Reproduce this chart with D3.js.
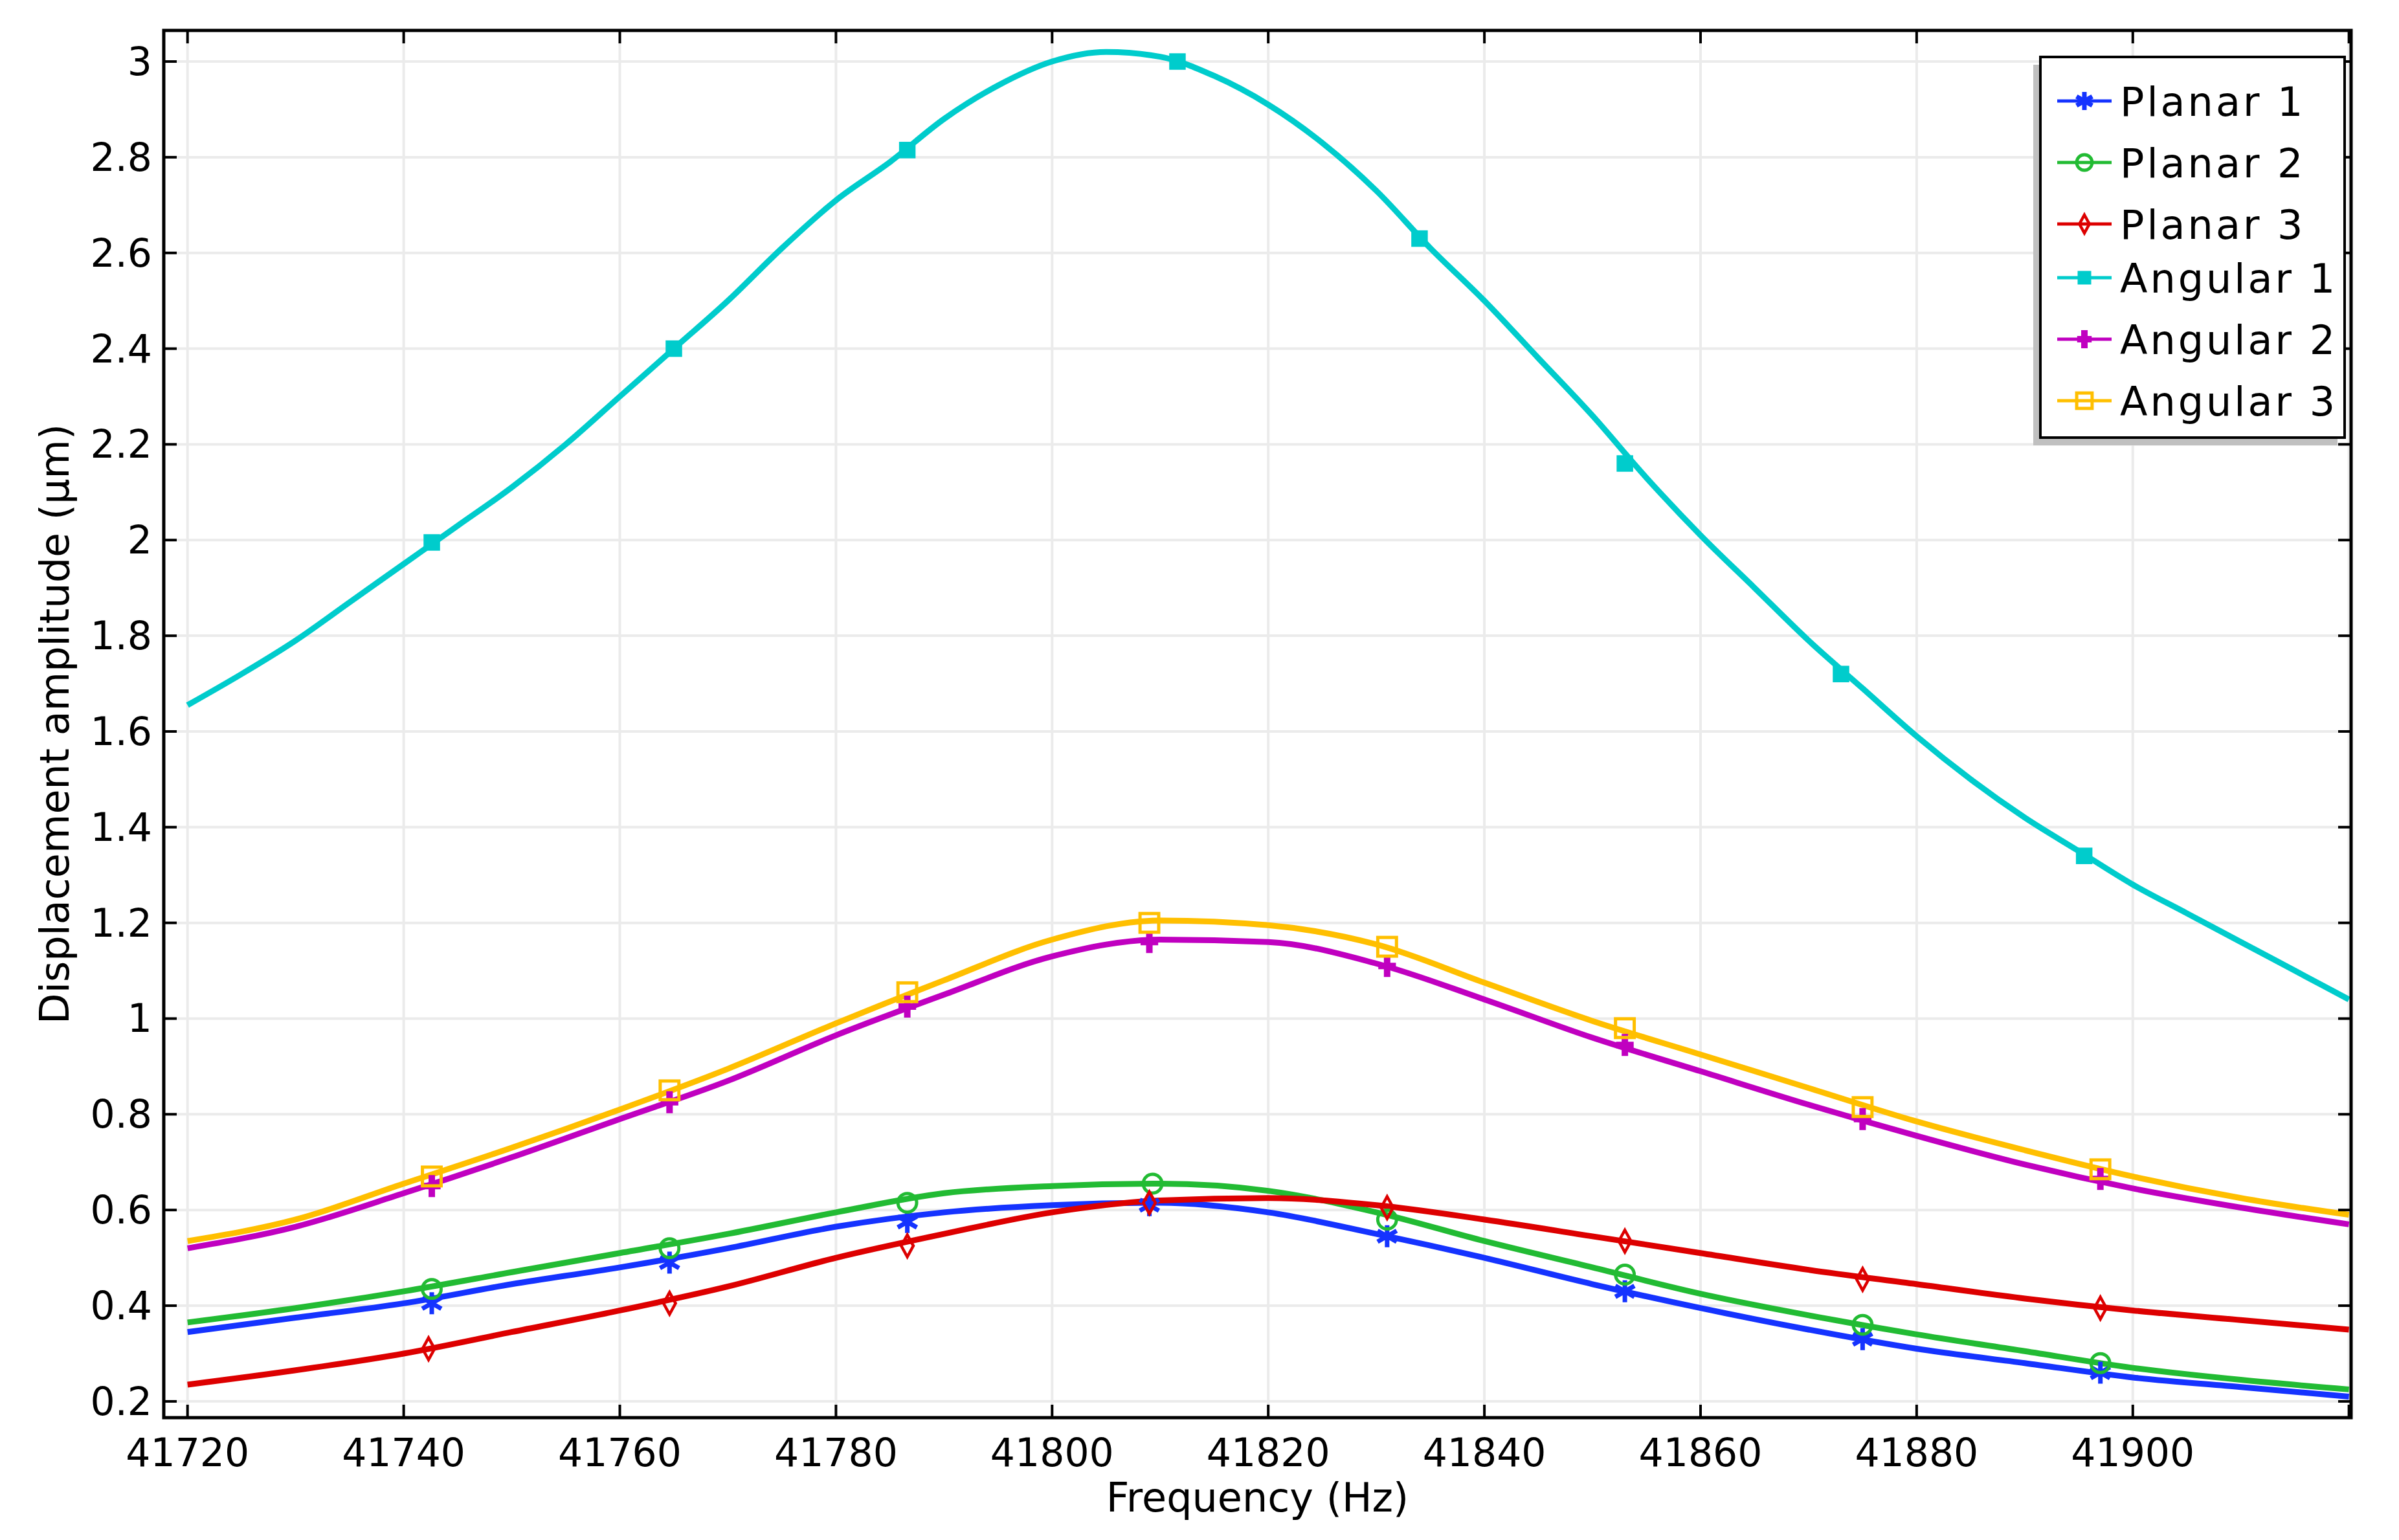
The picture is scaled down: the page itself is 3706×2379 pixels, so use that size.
<!DOCTYPE html>
<html><head><meta charset="utf-8">
<script src="https://cdn.jsdelivr.net/npm/d3@7"></script>
<style>body{margin:0;background:#fff}</style></head>
<body><svg id="c" width="3706" height="2379"></svg>
<script>
const freqs = [41720,41730,41740,41750,41760,41770,41780,41790,41800,41810,41820,41830,41840,41850,41860,41870,41880,41890,41900,41910,41920];
const planar1 = [.345,.375,.405,.445,.48,.52,.565,.595,.61,.615,.595,.55,.5,.445,.395,.35,.31,.28,.25,.23,.21];
const planar2 = [.365,.395,.43,.47,.51,.55,.595,.635,.65,.655,.64,.595,.535,.48,.425,.38,.34,.305,.27,.245,.225];
const planar3 = [.235,.265,.30,.345,.39,.44,.50,.55,.595,.62,.625,.61,.58,.545,.51,.475,.445,.415,.39,.37,.35];
const angular1x = [41720,41725,41730,41735,41740,41745,41750,41755,41760,41765,41770,41775,41780,41785,41790,41795,41800,41805,41810,41815,41820,41825,41830,41835,41840,41845,41850,41855,41860,41865,41870,41875,41880,41885,41890,41895,41900,41905,41910,41915,41920];
const angular1 = [1.655,1.72,1.79,1.87,1.95,2.03,2.11,2.20,2.30,2.40,2.50,2.61,2.71,2.79,2.88,2.95,3.0,3.02,3.01,2.97,2.91,2.83,2.73,2.61,2.50,2.38,2.26,2.13,2.01,1.90,1.79,1.69,1.59,1.50,1.42,1.35,1.28,1.22,1.16,1.10,1.04];
const angular2 = [.52,.565,.635,.71,.79,.87,.965,1.05,1.13,1.165,1.16,1.115,1.04,.96,.89,.82,.755,.695,.645,.605,.57];
const angular3 = [.535,.58,.655,.73,.81,.895,.99,1.08,1.165,1.205,1.195,1.155,1.075,.995,.925,.855,.785,.725,.67,.625,.59];
const markers1 = [[41742.6,.405],[41764.6,.49],[41786.6,.575],[41809,.61],[41831,.545],[41853,.43],[41875,.33],[41897,.26]];
const markers2 = [[41742.6,.435],[41764.6,.52],[41786.6,.615],[41809.3,.655],[41831,.58],[41853,.465],[41875,.36],[41897,.28]];
const markers3 = [[41742.3,.31],[41764.6,.405],[41786.6,.525],[41809,.615],[41831,.605],[41853,.535],[41875,.455],[41897,.395]];
const markersA1 = [[41742.6,1.995],[41765,2.4],[41786.6,2.815],[41811.6,3.0],[41834,2.63],[41853,2.16],[41873,1.72],[41895.5,1.34]];
const markersA2 = [[41742.6,.65],[41764.6,.825],[41786.6,1.025],[41809,1.16],[41831,1.11],[41853,.945],[41875,.79],[41897,.665]];
const markersA3 = [[41742.6,.67],[41764.6,.85],[41786.6,1.055],[41809,1.2],[41831,1.15],[41853,.98],[41875,.815],[41897,.685]];
const names = ["Planar 1","Planar 2","Planar 3","Angular 1","Angular 2","Angular 3"];
const colors = ["#1533ff","#22bb33","#dd0000","#00cccc","#c000c0","#ffbf00"];
const symbols = ["star","circle","diamond","square","plus","squareOpen"];
const xTicks = [41720,41740,41760,41780,41800,41820,41840,41860,41880,41900];
const yTicks = [0.2,0.4,0.6,0.8,1,1.2,1.4,1.6,1.8,2,2.2,2.4,2.6,2.8,3];

const series = [
 {xs:freqs,ys:planar1,m:markers1},{xs:freqs,ys:planar2,m:markers2},{xs:freqs,ys:planar3,m:markers3},
 {xs:angular1x,ys:angular1,m:markersA1},{xs:freqs,ys:angular2,m:markersA2},{xs:freqs,ys:angular3,m:markersA3}];

const L=253,R=3632,T=47,B=2190;
const x=d3.scaleLinear().domain([41717.8,41920.2]).range([L,R]);
const y=d3.scaleLinear().domain([0.166,3.065]).range([B,T]);
const svg=d3.select("#c");
const font="DejaVu Sans";
const g=svg.append("g");
g.selectAll(".gx").data(xTicks.concat([41920])).join("line").attr("x1",d=>x(d)).attr("x2",d=>x(d)).attr("y1",T).attr("y2",B).attr("stroke","#ebebeb").attr("stroke-width",4);
g.selectAll(".gy").data(yTicks).join("line").attr("y1",d=>y(d)).attr("y2",d=>y(d)).attr("x1",L).attr("x2",R).attr("stroke","#ebebeb").attr("stroke-width",4);

svg.append("clipPath").attr("id","cp").append("rect").attr("x",L).attr("y",T).attr("width",R-L).attr("height",B-T);
const line=d3.line().curve(d3.curveMonotoneX);
const plot=svg.append("g").attr("clip-path","url(#cp)");
function marker(sel,sym,col,s){
  const h=s/2;
  if(sym==="star"){
    sel.append("path").attr("d",`M0,${-h}V${h}M${-h*0.87},${-h*0.5}L${h*0.87},${h*0.5}M${-h*0.87},${h*0.5}L${h*0.87},${-h*0.5}`).attr("stroke",col).attr("stroke-width",7).attr("fill","none");
  } else if(sym==="circle"){
    sel.append("circle").attr("r",h*0.85).attr("fill","none").attr("stroke",col).attr("stroke-width",5);
  } else if(sym==="diamond"){
    sel.append("path").attr("d",`M0,${-h}L${h*0.55},0L0,${h}L${-h*0.55},0Z`).attr("fill","none").attr("stroke",col).attr("stroke-width",4.5);
  } else if(sym==="square"){
    sel.append("rect").attr("x",-h*0.75).attr("y",-h*0.75).attr("width",h*1.5).attr("height",h*1.5).attr("fill",col);
  } else if(sym==="plus"){
    sel.append("path").attr("d",`M0,${-h}V${h}M${-h*0.8},0H${h*0.8}`).attr("stroke",col).attr("stroke-width",10).attr("fill","none");
  } else {
    sel.append("rect").attr("x",-h*0.85).attr("y",-h*0.85).attr("width",h*1.7).attr("height",h*1.7).attr("fill","none").attr("stroke",col).attr("stroke-width",5);
  }
}
series.forEach((s,i)=>{
  plot.append("path").attr("d",line(s.xs.map((v,j)=>[x(v),y(s.ys[j])]))).attr("fill","none").attr("stroke",colors[i]).attr("stroke-width",9);
});
series.forEach((s,i)=>{
  s.m.forEach(p=>{const mg=plot.append("g").attr("transform",`translate(${x(p[0])},${y(p[1])})`);marker(mg,symbols[i],colors[i],34);});
});

svg.append("rect").attr("x",L).attr("y",T).attr("width",R-L).attr("height",B-T).attr("fill","none").attr("stroke","#000").attr("stroke-width",5);
const tl=20;
xTicks.concat([41920]).forEach(d=>{
  svg.append("line").attr("x1",x(d)).attr("x2",x(d)).attr("y1",B).attr("y2",B-tl).attr("stroke","#000").attr("stroke-width",4);
  svg.append("line").attr("x1",x(d)).attr("x2",x(d)).attr("y1",T).attr("y2",T+tl).attr("stroke","#000").attr("stroke-width",4);
});
yTicks.forEach(d=>{
  svg.append("line").attr("x1",L).attr("x2",L+tl).attr("y1",y(d)).attr("y2",y(d)).attr("stroke","#000").attr("stroke-width",4);
  svg.append("line").attr("x1",R).attr("x2",R-tl).attr("y1",y(d)).attr("y2",y(d)).attr("stroke","#000").attr("stroke-width",4);
});
svg.selectAll(".xl").data(xTicks).join("text").attr("x",d=>x(d)).attr("y",B+75).attr("text-anchor","middle").attr("font-family",font).attr("font-size",60).text(d=>d);
svg.selectAll(".yl").data(yTicks).join("text").attr("x",L-18).attr("y",d=>y(d)+21).attr("text-anchor","end").attr("font-family",font).attr("font-size",60).text(d=>d);
svg.append("text").attr("x",(L+R)/2).attr("y",2335).attr("text-anchor","middle").attr("font-family",font).attr("font-size",62).text("Frequency (Hz)");
svg.append("text").attr("transform",`translate(106,${(T+B)/2}) rotate(-90)`).attr("text-anchor","middle").attr("font-family",font).attr("font-size",62).text("Displacement amplitude (µm)");

const lg=svg.append("g");
lg.append("rect").attr("x",3141).attr("y",100).attr("width",470).attr("height",588).attr("fill","#c0c0c0");
lg.append("rect").attr("x",3152).attr("y",88).attr("width",470).attr("height",588).attr("fill","#fff").attr("stroke","#000").attr("stroke-width",4);
const rows=[156,251,346,429,524,619];
names.forEach((n,i)=>{
  lg.append("line").attr("x1",3178).attr("x2",3262).attr("y1",rows[i]).attr("y2",rows[i]).attr("stroke",colors[i]).attr("stroke-width",5);
  marker(lg.append("g").attr("transform",`translate(3220,${rows[i]})`),symbols[i],colors[i],28);
  lg.append("text").attr("x",3275).attr("y",rows[i]+23).attr("font-family",font).attr("font-size",62).attr("letter-spacing",4).text(n);
});
</script></body></html>
